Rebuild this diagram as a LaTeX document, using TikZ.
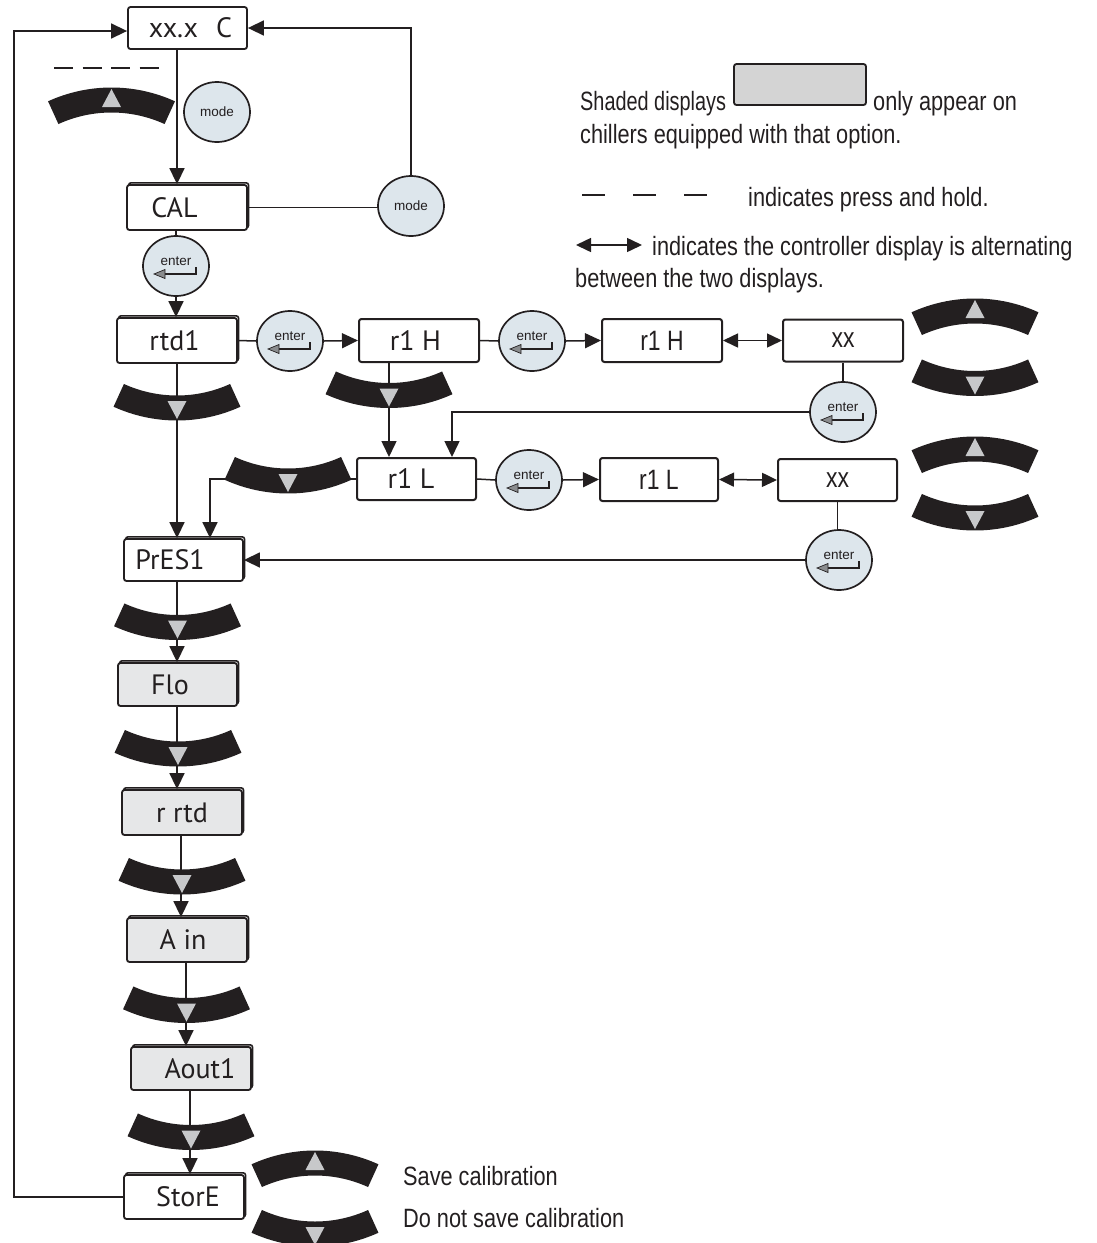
\documentclass[tikz,border=0pt]{standalone}
\usepackage{fontspec}
\setmainfont{PT Sans}
\newfontfamily\condfont{Liberation Sans}[FakeStretch=0.82]
\newfontfamily\condnarrow{Liberation Sans}[FakeStretch=0.75]
\newfontfamily\helv{Liberation Sans}
\usetikzlibrary{shapes.geometric,arrows.meta,shadows,calc}
\definecolor{ink}{HTML}{231F20}
\definecolor{btnfill}{HTML}{DDE6EC}
\definecolor{tri}{HTML}{C7C8CA}
\definecolor{gtri}{HTML}{8A8C8E}
\definecolor{shade}{HTML}{E6E7E8}
\definecolor{legshade}{HTML}{D4D4D4}
\newcommand\dnbtn[3]{%
  \coordinate (#1) at (#2,#3);
  \fill[ink] ($(#1)+(0,-140.5)$) ++(114.5:128) arc[start angle=114.5, end angle=65.5, radius=128]
     -- ($(#1)+(0,-140.5)+(65.5:153)$) arc[start angle=65.5, end angle=114.5, radius=153] -- cycle;
  \fill[tri] ($(#1)+(-9.5,-7)$) -- ($(#1)+(9.5,-7)$) -- ($(#1)+(0,11)$) -- cycle;
}
\newcommand\upbtn[3]{%
  \coordinate (#1) at (#2,#3);
  \fill[ink] ($(#1)+(0,140.5)$) ++(245.5:128) arc[start angle=245.5, end angle=294.5, radius=128]
     -- ($(#1)+(0,140.5)+(294.5:153)$) arc[start angle=294.5, end angle=245.5, radius=153] -- cycle;
  \fill[tri] ($(#1)+(-9.5,7)$) -- ($(#1)+(9.5,7)$) -- ($(#1)+(0,-11)$) -- cycle;
}
\newcommand\enterglyph[1]{%
  \node[font=\helv\fontsize{13.5}{14}\selectfont, text=ink, inner sep=0pt] (#1t) at ($(#1)+(0,-5)$) {enter};
  \draw[ink, line width=1.8pt] ($(#1)+(-12,8)$) -- ($(#1)+(20,8)$) -- ($(#1)+(20,1)$);
  \fill[gtri, draw=ink, line width=0.7pt] ($(#1)+(-22,8)$) -- ($(#1)+(-11,3.5)$) -- ($(#1)+(-11,12.5)$) -- cycle;
}
\begin{document}
\begin{tikzpicture}[x=1pt,y=-1pt,
  conn/.style={draw=ink, line width=1.5pt},
  arr/.style={conn, -{Triangle[length=16pt,width=15pt]}},
  darr/.style={conn, {Triangle[length=15pt,width=14pt]}-{Triangle[length=15pt,width=14pt]}},
  disp/.style={draw=ink, line width=1.8pt, rounded corners=2.5pt, fill=white, inner sep=0pt, text=ink, font=\fontsize{28}{30}\selectfont},
  sdisp/.style={disp, copy shadow={shadow xshift=1.6pt, shadow yshift=2.2pt, draw=ink, line width=1.6pt, fill=white}},
  shdisp/.style={disp, fill=shade, copy shadow={shadow xshift=1.6pt, shadow yshift=2.2pt, draw=ink, line width=1.6pt, fill=shade}},
  cdisp/.style={disp, line width=2pt, font=\condfont\fontsize{28}{30}\selectfont},
  btn/.style={ellipse, draw=ink, line width=1.7pt, fill=btnfill, minimum width=66pt, minimum height=60pt, inner sep=0pt, text=ink},
  leg/.style={font=\condfont\fontsize{26.5}{30}\selectfont, text=ink, inner sep=0pt},
]
\useasboundingbox (0,0) rectangle (1097,1243);

% helper x positions
\coordinate (c177) at (177,0);
\coordinate (c181) at (181,0);
\coordinate (c186) at (186,0);
\coordinate (c190) at (190,0);
\coordinate (c210) at (210,0);
\coordinate (c389) at (389,0);
\coordinate (c452) at (452,0);
\coordinate (lp) at (14,0);

% display boxes
\node[disp, minimum width=119pt, minimum height=42pt] (xxC) at (187.5,28) {\hspace*{6pt}xx.x\hspace{18pt}C};
\node[sdisp, minimum width=120pt, minimum height=45pt] (CAL) at (187,207.5) {CAL\hspace*{25pt}};
\node[sdisp, minimum width=120pt, minimum height=45pt] (rtd1) at (177,340.5) {rtd1\hspace*{5pt}};
\node[disp, line width=2pt, minimum width=120pt, minimum height=43pt] (r1H1) at (419,340.5) {r1 H\hspace*{7pt}};
\node[cdisp, minimum width=120pt, minimum height=43pt] (r1H2) at (662,340.5) {r1 H};
\node[cdisp, minimum width=120pt, minimum height=42pt] (xx1) at (843,340.5) {xx};
\node[disp, line width=2pt, minimum width=119pt, minimum height=42pt] (r1L1) at (416.5,479) {r1 L\hspace*{11pt}};
\node[cdisp, minimum width=118pt, minimum height=43pt] (r1L2) at (659,479.5) {r1 L};
\node[cdisp, minimum width=119pt, minimum height=42pt] (xx2) at (837.5,480) {xx};
\node[sdisp, minimum width=119pt, minimum height=42pt] (PrES1) at (183.5,560) {PrES1\hspace*{27pt}};
\node[shdisp, minimum width=119pt, minimum height=43pt] (Flo) at (177.5,684.5) {Flo\hspace*{15pt}};
\node[shdisp, minimum width=120pt, minimum height=45pt] (rrtd) at (182,812.5) {r rtd};
\node[shdisp, minimum width=120pt, minimum height=44pt] (Ain) at (187,940) {A in\hspace*{8pt}};
\node[shdisp, minimum width=120pt, minimum height=43pt] (Aout1) at (191,1068.5) {\hspace*{18pt}Aout1};
\node[sdisp, minimum width=120pt, minimum height=44pt] (StorE) at (184,1197) {\hspace*{8pt}StorE};

% round buttons
\node[btn, font=\helv\fontsize{13.5}{14}\selectfont] (mode1) at (217,112) {mode};
\node[btn, font=\helv\fontsize{13.5}{14}\selectfont] (mode2) at (411,206) {mode};
\node[btn] (e1) at (176,266) {};
\node[btn] (e2) at (290,341) {};
\node[btn] (e3) at (532,341) {};
\node[btn] (e4) at (843,412) {};
\node[btn] (e5) at (529,480) {};
\node[btn] (e6) at (839,560) {};
\enterglyph{e1}
\enterglyph{e2}
\enterglyph{e3}
\enterglyph{e4}
\enterglyph{e5}
\enterglyph{e6}

% connectors
\draw[arr] (StorE.west) -- (StorE.west -| lp) |- ($(xxC.west)+(0,3)$);
\draw[arr] (xxC.south -| c177) -- (CAL.north -| c177);
\draw[arr] (mode2.north) |- (xxC.east);
\draw[conn] (CAL.east) -- (CAL.east -| mode2.west);
\draw[conn] (CAL.south -| e1) -- (e1.north);
\draw[arr] (e1.south) -- (e1.south |- rtd1.north);
\draw[conn] (rtd1.east) -- (e2.west);
\draw[arr] (e2.east) -- (r1H1.west);
\draw[conn] (r1H1.east) -- (e3.west);
\draw[arr] (e3.east) -- (r1H2.west);
\draw[darr] (r1H2.east) -- (xx1.west);
\draw[conn] (xx1.south) -- (e4.north);
\draw[arr] (e4.west) -| (r1L1.north -| c452);
\draw[arr] (r1H1.south -| c389) -- (r1L1.north -| c389);
\draw[conn] (r1L1.east) -- (e5.west);
\draw[arr] (e5.east) -- (r1L2.west);
\draw[darr] (r1L2.east) -- (xx2.west);
\draw[conn] (xx2.south) -- (xx2.south |- e6.north);
\draw[arr] (e6.west) -- (PrES1.east);
\draw[arr] (rtd1.south -| c177) -- (PrES1.north -| c177);
\draw[arr] (r1L1.west) -| (PrES1.north -| c210);
\draw[arr] (PrES1.south -| c177) -- (Flo.north -| c177);
\draw[arr] (Flo.south -| c177) -- (rrtd.north -| c177);
\draw[arr] (rrtd.south -| c181) -- (Ain.north -| c181);
\draw[arr] (Ain.south -| c186) -- (Aout1.north -| c186);
\draw[arr] (Aout1.south -| c190) -- (StorE.north -| c190);

% press and hold dashes (top left)
\coordinate (dashL) at (54,68);
\coordinate (dashR) at (159,68);
\draw[ink, line width=1.4pt, dash pattern=on 19pt off 9.5pt] (dashL) -- (dashR);

% arc buttons
\upbtn{u1}{111.5}{100}
\dnbtn{d1}{177}{408}
\dnbtn{d2}{389}{395.5}
\dnbtn{d3}{288}{481}
\dnbtn{d4}{177.5}{627.5}
\dnbtn{d5}{178}{754}
\dnbtn{d6}{182}{882}
\dnbtn{d7}{186.5}{1010.5}
\dnbtn{d8}{191}{1137.5}
\upbtn{u2}{975}{311}
\dnbtn{d9}{975}{383.5}
\upbtn{u3}{975}{449}
\dnbtn{d10}{975}{518}
\upbtn{u4}{315}{1163}
\dnbtn{d11}{315}{1234}

% legend
\node[draw=ink, line width=1.8pt, fill=legshade, rounded corners=2.5pt, minimum width=132pt, minimum height=41pt, inner sep=0pt] (legbox) at (800,84.5) {};
\node[leg, font=\condnarrow\fontsize{26.5}{30}\selectfont, anchor=base west] (lg1) at (580,110) {Shaded displays};
\node[leg, anchor=base west] (lg2) at (873,110) {only appear on};
\node[leg, anchor=base west] (lg3) at (580,143) {chillers equipped with that option.};
\coordinate (ldL) at (582,195);
\coordinate (ldR) at (708,195);
\draw[ink, line width=2pt, dash pattern=on 23pt off 28pt] (ldL) -- (ldR);
\node[leg, anchor=base west] (lg4) at (748,206) {indicates press and hold.};
\coordinate (laL) at (576,245);
\coordinate (laR) at (642,245);
\draw[darr] (laL) -- (laR);
\node[leg, anchor=base west] (lg5) at (652,255) {indicates the controller display is alternating};
\node[leg, anchor=base west] (lg6) at (575,287) {between the two displays.};

% bottom labels
\node[leg, anchor=base west] (save) at (403,1185) {Save calibration};
\node[leg, anchor=base west] (nosave) at (403,1227) {Do not save calibration};
\end{tikzpicture}
\end{document}
